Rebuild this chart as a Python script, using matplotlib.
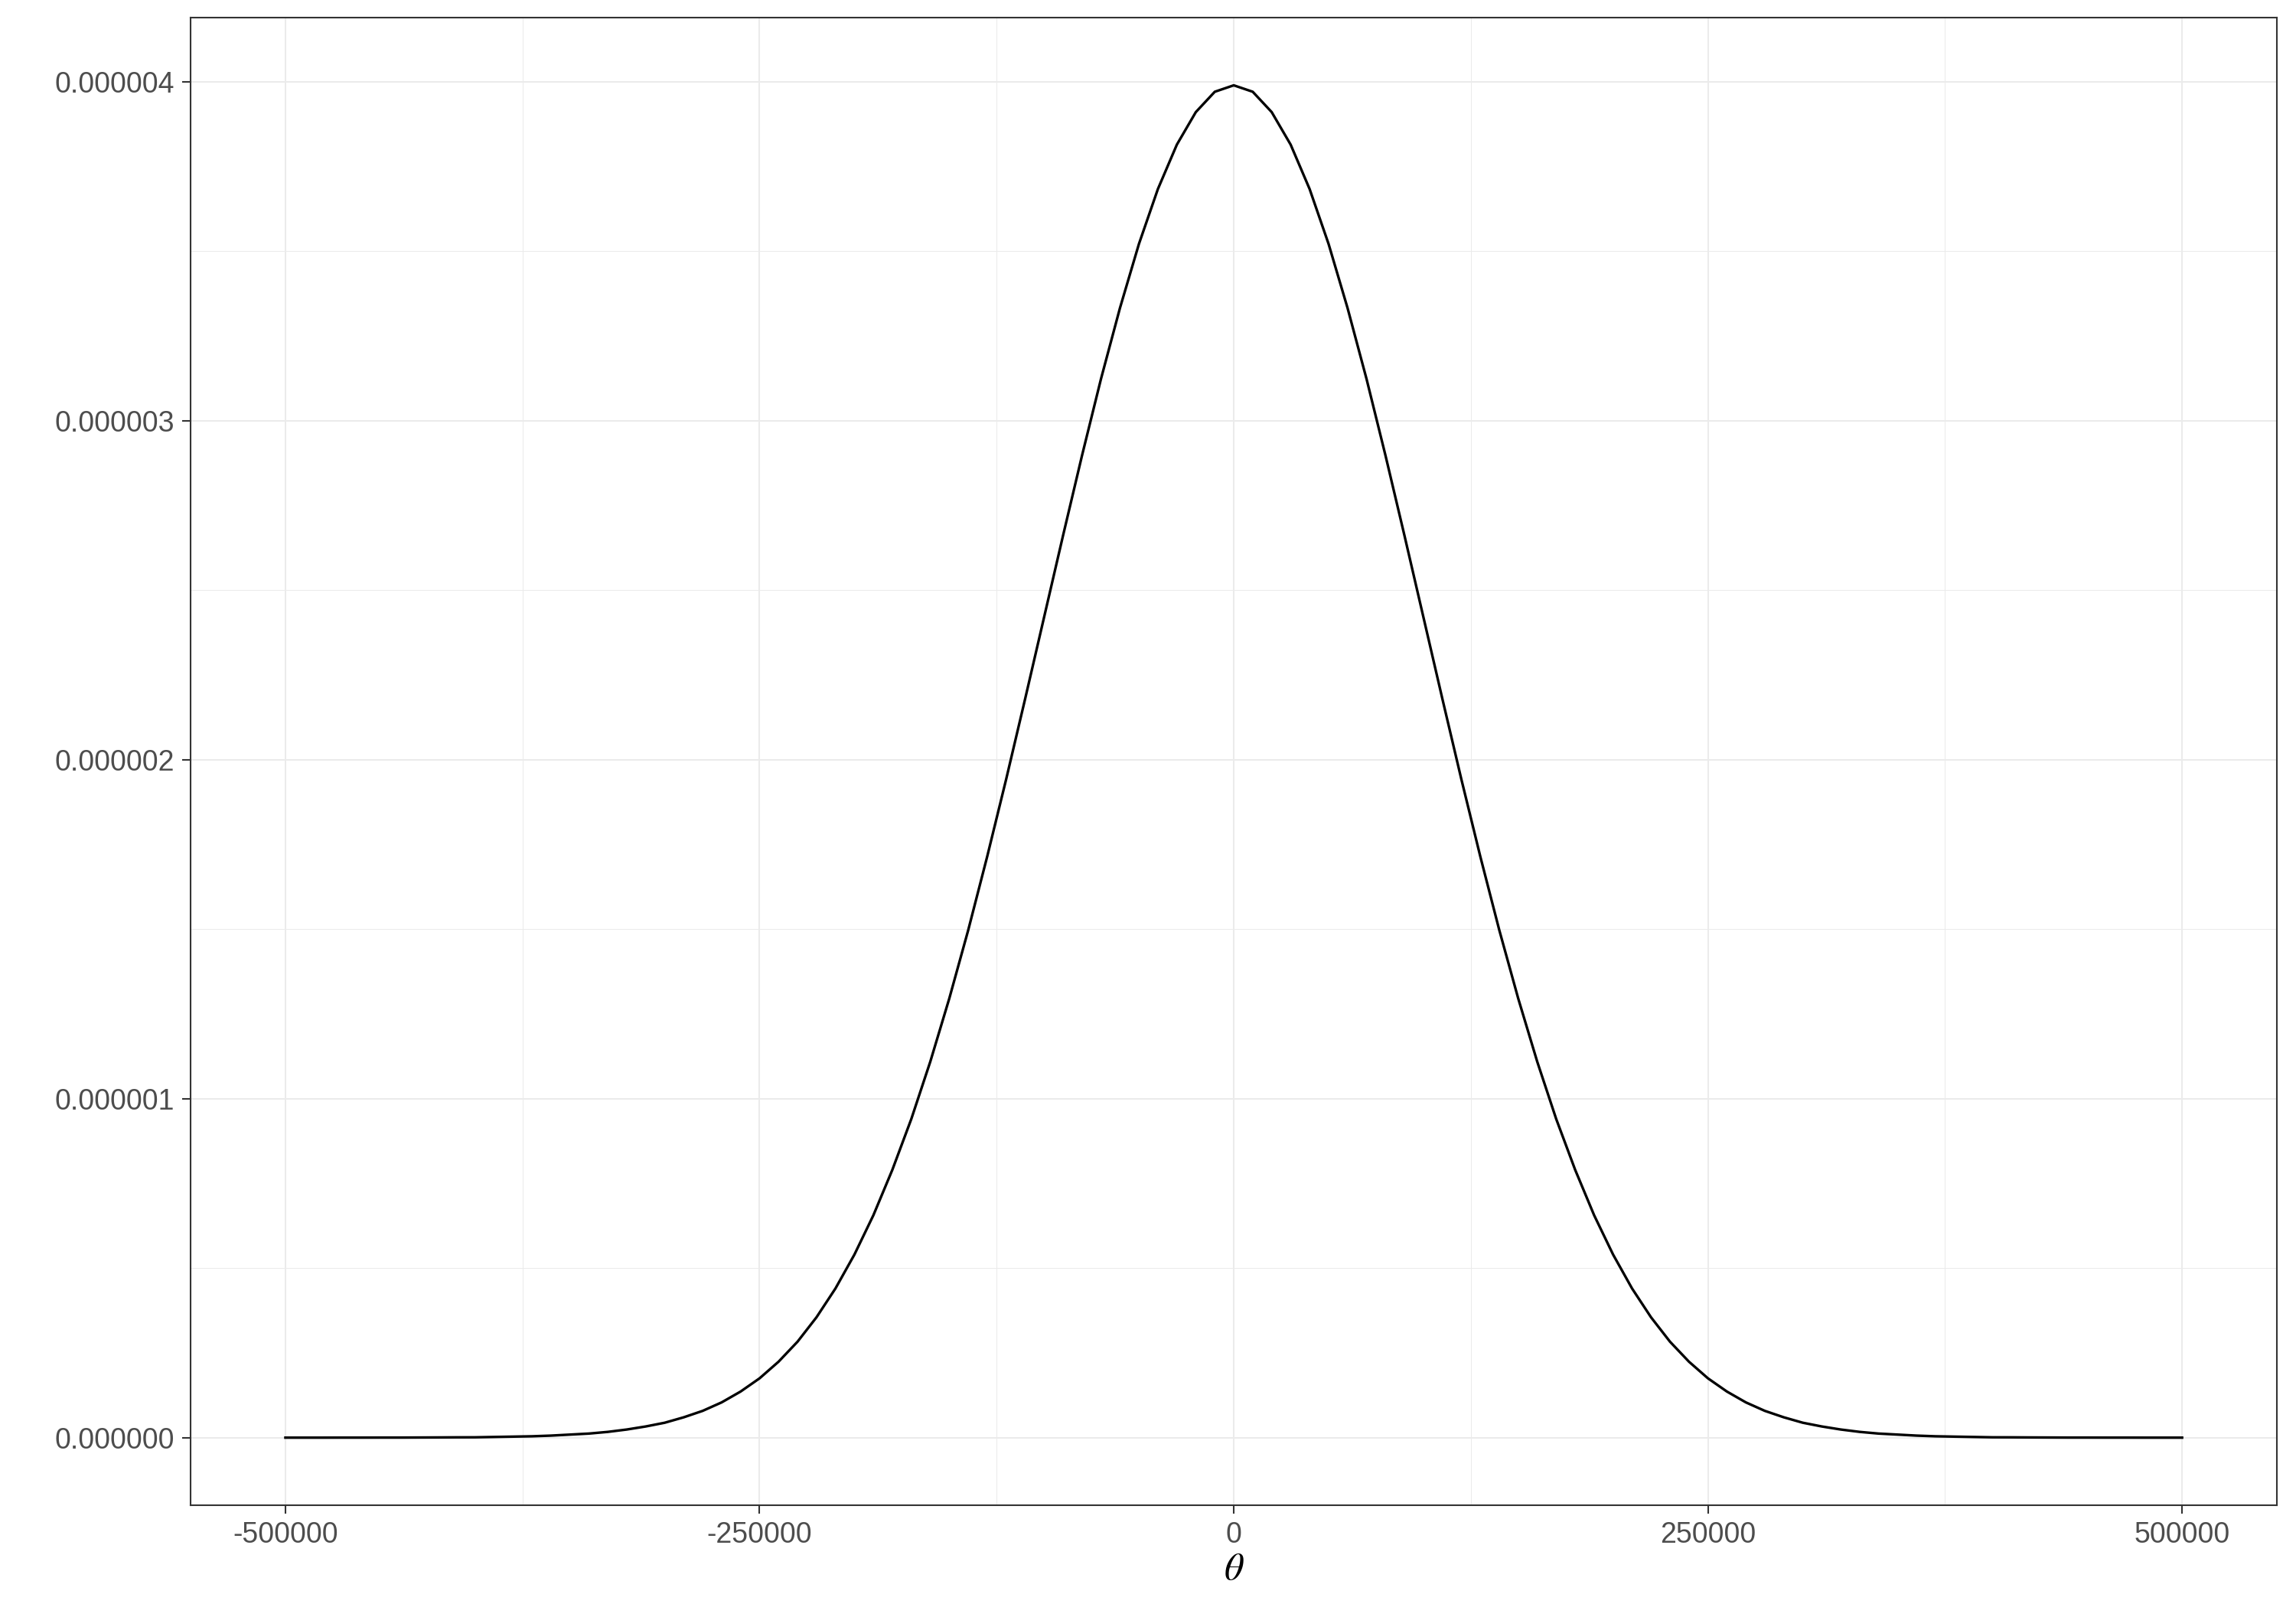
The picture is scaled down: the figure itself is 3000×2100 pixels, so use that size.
import matplotlib
matplotlib.use("Agg")
import matplotlib.pyplot as plt
from matplotlib.ticker import FixedLocator

# theta grid (step 10000) and density values (units of 1e-6)
theta = list(range(-500000, 500001, 10000))
half = [3.989, 3.970, 3.910, 3.814, 3.683, 3.521, 3.332, 3.123, 2.897, 2.661,
        2.420, 2.179, 1.942, 1.714, 1.497, 1.295, 1.109, 0.940, 0.790, 0.656,
        0.540, 0.440, 0.355, 0.283, 0.224, 0.175, 0.136, 0.104, 0.079, 0.060,
        0.044, 0.033, 0.024, 0.017, 0.012, 0.009, 0.006, 0.004, 0.003, 0.002,
        0.001, 0.0009, 0.0006, 0.0004, 0.0002, 0.0002, 0.0001, 0.0001, 0.0000, 0.0000,
        0.0000]
density_e6 = half[::-1][:-1] + half
density = [v * 1e-6 for v in density_e6]

x_ticks = [-500000, -250000, 0, 250000, 500000]
x_tick_labels = ["-500000", "-250000", "0", "250000", "500000"]
y_ticks = [0.0, 1e-6, 2e-6, 3e-6, 4e-6]
y_tick_labels = ["0.000000", "0.000001", "0.000002", "0.000003", "0.000004"]
x_minor = [-375000, -125000, 125000, 375000]
y_minor = [0.5e-6, 1.5e-6, 2.5e-6, 3.5e-6]

plt.rcParams['font.family'] = ['Liberation Sans', 'DejaVu Sans']
plt.rcParams['mathtext.fontset'] = 'stix'

fig = plt.figure(figsize=(10, 7), dpi=300)
ax = fig.add_axes([0.083, 0.0633, 0.9087, 0.9257])

ax.plot(theta, density, color='black', lw=0.8, zorder=3)

ax.set_xlim(-550000, 550000)
ax.set_ylim(-0.1995e-6, 4.1885e-6)

ax.set_xticks(x_ticks)
ax.set_xticklabels(x_tick_labels)
ax.set_yticks(y_ticks)
ax.set_yticklabels(y_tick_labels)
ax.xaxis.set_minor_locator(FixedLocator(x_minor))
ax.yaxis.set_minor_locator(FixedLocator(y_minor))

for v in x_ticks:
    ax.axvline(v, color='#EBEBEB', lw=0.5, zorder=1)
for v in y_ticks:
    ax.axhline(v, color='#EBEBEB', lw=0.5, zorder=1)
for v in x_minor:
    ax.axvline(v, color='#EBEBEB', lw=0.25, zorder=1)
for v in y_minor:
    ax.axhline(v, color='#EBEBEB', lw=0.25, zorder=1)

ax.tick_params(axis='both', which='major', length=2.6, width=0.5, color='#333333',
               labelsize=9.0, labelcolor='#4D4D4D', pad=2.4)
ax.tick_params(axis='both', which='minor', length=0)

for s in ax.spines.values():
    s.set_color('#333333')
    s.set_linewidth(0.5)

ax.set_xlabel(r'$\theta$', fontsize=12, labelpad=1)

fig.savefig('out.png', dpi=300, facecolor='white')
